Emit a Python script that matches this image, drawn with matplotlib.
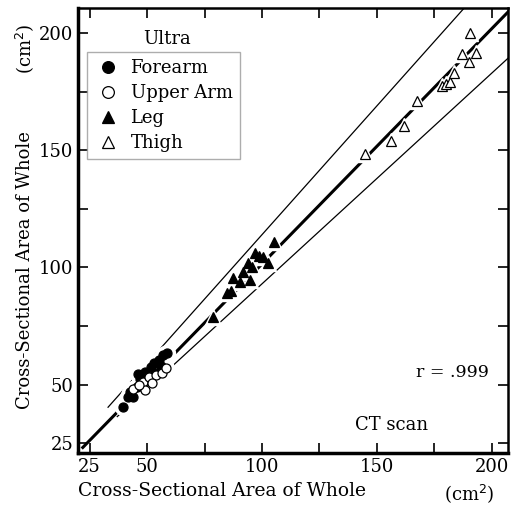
import numpy as np
import matplotlib.pyplot as plt

# values (cm^2): (whole by CT, whole by ultrasound)
forearm_x = [39.5, 41.5, 44.0, 45.5, 47.0, 46.0, 49.0, 51.5, 53.0, 55.0, 57.0, 58.5, 50.0, 53.5, 56.0, 42.5]
forearm_y = [40.5, 44.5, 44.5, 49.0, 52.5, 54.5, 55.5, 57.5, 59.0, 60.5, 62.5, 63.5, 52.0, 55.0, 58.0, 47.0]
upper_x = [44.0, 48.0, 51.0, 54.0, 56.5, 52.0, 58.0, 49.0, 46.5]
upper_y = [48.0, 51.0, 53.0, 54.0, 55.0, 50.5, 57.0, 47.5, 50.0]
leg_x = [78.7, 84.8, 86.5, 87.4, 90.4, 91.7, 94.0, 94.8, 95.6, 97.0, 98.7, 100.4, 102.6, 105.2]
leg_y = [78.8, 89.0, 90.0, 95.4, 93.7, 98.0, 101.8, 94.6, 100.0, 106.0, 105.0, 104.4, 102.0, 110.8]
thigh_x = [144.8, 156.0, 161.7, 167.4, 178.3, 180.0, 181.7, 183.5, 187.0, 190.0, 193.0, 190.4]
thigh_y = [148.3, 153.9, 160.3, 171.0, 177.4, 178.2, 179.0, 183.0, 191.0, 187.6, 191.5, 200.0]

plt.rcParams['font.family'] = ['DejaVu Serif']
fs = 13
fig = plt.figure(figsize=(5.11, 5.12), dpi=100)
ax = fig.add_axes([0.153, 0.115, 0.841, 0.869])
ax.set_xlim(20, 207)
ax.set_ylim(20.7, 210.7)

# identity / regression line and the two bound lines
xx = np.array([22, 210])
ax.plot(xx, 1.005 * xx + 1, color='k', lw=2.2, zorder=1)
xu = np.array([33, 200])
ax.plot(xu, 1.1 * xu + 4, color='k', lw=0.9, zorder=1)
xl = np.array([37, 215])
ax.plot(xl, 0.9 * xl + 3, color='k', lw=0.9, zorder=1)

groups = [
    (forearm_x, forearm_y, 'o', 'k', 'Forearm'),
    (upper_x, upper_y, 'o', 'w', 'Upper Arm'),
    (leg_x, leg_y, '^', 'k', 'Leg'),
    (thigh_x, thigh_y, '^', 'w', 'Thigh'),
]
for x, y, m, fc, lab in groups:
    ax.plot(x, y, m, ms=11.5, color='w', mec='w', ls='none', zorder=2)
for x, y, m, fc, lab in groups:
    ax.plot(x, y, m, ms=6.5, mfc=fc, mec='k', mew=0.9, ls='none', label=lab, zorder=3)

ticks = [25, 50, 75, 100, 125, 150, 175, 200]
labels = ['25', '50', '', '100', '', '150', '', '200']
ax.set_xticks(ticks)
ax.set_xticklabels(labels)
ax.set_yticks(ticks)
ax.set_yticklabels(labels)
ax.tick_params(direction='in', length=7, width=1.2, top=True, right=True, labelsize=fs)
for s in ['left', 'bottom']:
    ax.spines[s].set_linewidth(2.5)
for s in ['top', 'right']:
    ax.spines[s].set_linewidth(1.8)

ax.set_xlabel('Cross-Sectional Area of Whole', fontsize=13.5, loc='left', labelpad=4)
fig.text(0.048, 0.473, 'Cross-Sectional Area of Whole', fontsize=fs, rotation=90,
         va='center', ha='center')
fig.text(0.918, 0.037, '(cm$^2$)', fontsize=fs, ha='center', va='center')
fig.text(0.048, 0.905, '(cm$^2$)', fontsize=fs, rotation=90, va='center', ha='center')

ax.text(0.207, 0.93, 'Ultra', transform=ax.transAxes, fontsize=fs, ha='center', va='center')
ax.legend(loc='upper left', bbox_to_anchor=(0.021, 0.901), borderaxespad=0, frameon=True,
          fancybox=False, edgecolor='#999999', fontsize=fs, handletextpad=0.5,
          labelspacing=0.38, borderpad=0.4, handlelength=1.5, markerscale=1.3)
ax.text(0.786, 0.182, 'r = .999', transform=ax.transAxes, fontsize=12.5, va='center')
ax.text(0.644, 0.063, 'CT scan', transform=ax.transAxes, fontsize=fs, va='center')

plt.savefig('out.png', dpi=100)
